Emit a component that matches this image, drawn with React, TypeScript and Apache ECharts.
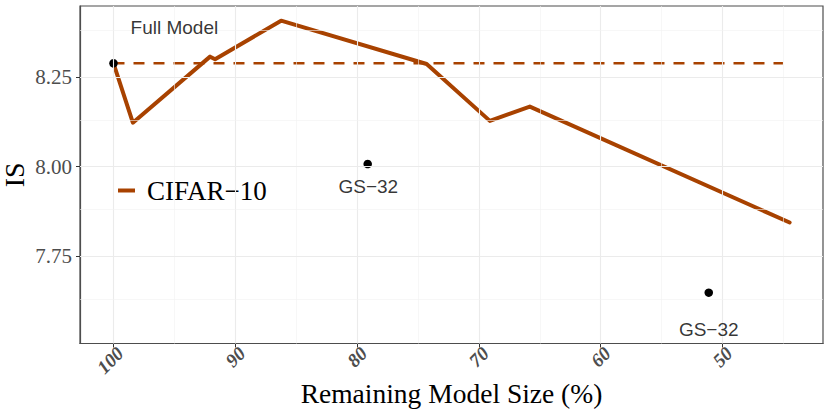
import React, { useEffect, useRef } from "react";
import * as echarts from "echarts";

// ---- data ----
const lineX = [100, 98.41, 92.07, 91.66, 86.24, 74.29, 69.1, 65.82, 44.49];
const lineY = [8.289, 8.123, 8.3075, 8.3, 8.408, 8.287, 8.128, 8.168, 7.844];
const fullX = [100, 45.04];
const fullY = [8.289, 8.289];
const pointX = [100, 79.13, 51.13];
const pointY = [8.289, 8.0075, 7.648];
const labelText = ["Full Model", "GS\u221232", "GS\u221232"];
const labelX = [95.0, 79.08, 51.13];
const labelY = [8.388, 7.945, 7.546];
const xTicks = [100, 90, 80, 70, 60, 50];
const xMinor = [95, 85, 75, 65, 55, 45];
const yTicks = [7.75, 8.0, 8.25];
const yMinor = [7.625, 7.875, 8.125, 8.375];
const legendName = "CIFAR\u221210";

const COLOR = "#A84200";
const SERIF = "'Liberation Serif', 'Times New Roman', serif";
const SANS = "'Liberation Sans', Arial, sans-serif";

export default function App() {
  const ref = useRef<HTMLDivElement>(null);
  useEffect(() => {
    if (!ref.current) return;
    const chart = echarts.init(ref.current, undefined, { renderer: "svg" });
    const zip = (xs: number[], ys: number[]) => xs.map((x, i) => [x, ys[i]]);
    const gridLines = [
      ...xTicks.map((v) => ({ xAxis: v, lineStyle: { color: "#ebebeb", width: 1.1, type: "solid" } })),
      ...xMinor.map((v) => ({ xAxis: v, lineStyle: { color: "#f2f2f2", width: 0.6, type: "solid" } })),
      ...yTicks.map((v) => ({ yAxis: v, lineStyle: { color: "#ebebeb", width: 1.1, type: "solid" } })),
      ...yMinor.map((v) => ({ yAxis: v, lineStyle: { color: "#f2f2f2", width: 0.6, type: "solid" } })),
    ];
    chart.setOption({
      animation: false,
      backgroundColor: "#ffffff",
      grid: {
        left: 80,
        right: 7,
        top: 6,
        bottom: 71.5,
        containLabel: false,
        outerBoundsMode: "none",
        show: true,
        borderColor: "#4d4d4d",
        borderWidth: 1.2,
        backgroundColor: "transparent",
      },
      legend: {
        data: [{ name: legendName, icon: "rect", itemStyle: { color: COLOR } }],
        left: 118,
        top: 177,
        padding: 0,
        itemWidth: 17,
        itemHeight: 4,
        textStyle: { fontFamily: SERIF, fontSize: 27, color: "#000", padding: [0, 0, 0, 7] },
        selectedMode: false,
      },
      xAxis: {
        type: "value",
        inverse: true,
        min: 41.75,
        max: 102.75,
        name: "Remaining Model Size (%)",
        nameLocation: "middle",
        nameGap: 36,
        nameMoveOverlap: false,
        nameTextStyle: { fontFamily: SERIF, fontSize: 27.5, color: "#000" },
        axisLine: { show: true, lineStyle: { color: "#4d4d4d", width: 1.2 } },
        axisTick: { show: true, length: 4, customValues: xTicks, lineStyle: { color: "#333", width: 1 } },
        axisLabel: {
          customValues: xTicks,
          rotate: 45,
          margin: 0,
          verticalAlign: "top",
          fontFamily: SERIF,
          fontWeight: "bold",
          fontStyle: "italic",
          fontSize: 19,
          color: "#4d4d4d",
          formatter: (v: number) => String(v),
        },
        splitLine: { show: false },
      },
      yAxis: {
        type: "value",
        min: 7.506,
        max: 8.449,
        name: "IS",
        nameLocation: "middle",
        nameGap: 52,
        nameMoveOverlap: false,
        nameTextStyle: { fontFamily: SERIF, fontSize: 28, color: "#000" },
        axisLine: { show: true, lineStyle: { color: "#4d4d4d", width: 1.2 } },
        axisTick: { show: true, length: 4, customValues: yTicks, lineStyle: { color: "#333", width: 1 } },
        axisLabel: {
          customValues: yTicks,
          margin: 8,
          fontFamily: SERIF,
          fontSize: 21,
          color: "#4d4d4d",
          formatter: (v: number) => v.toFixed(2),
        },
        splitLine: { show: false },
      },
      series: [
        {
          name: "grid",
          type: "line",
          z: 0,
          silent: true,
          symbol: "none",
          data: [[100, 8.289]],
          lineStyle: { opacity: 0 },
          markLine: { silent: true, symbol: ["none", "none"], label: { show: false }, animation: false, data: gridLines },
        },
        {
          name: legendName,
          type: "line",
          z: 2,
          symbol: "none",
          data: zip(fullX, fullY),
          lineStyle: { color: COLOR, width: 2.6, type: [11, 9] },
          itemStyle: { color: COLOR },
        },
        {
          name: "pruned",
          type: "line",
          z: 3,
          symbol: "none",
          data: zip(lineX, lineY),
          lineStyle: { color: COLOR, width: 4, cap: "round", join: "round" },
          itemStyle: { color: COLOR },
        },
        {
          name: "points",
          type: "scatter",
          z: 4,
          symbolSize: 8.5,
          itemStyle: { color: "#000", opacity: 1 },
          data: zip(pointX, pointY),
        },
        {
          name: "labels",
          type: "scatter",
          z: 5,
          symbolSize: 0,
          data: labelText.map((t, i) => ({ name: t, value: [labelX[i], labelY[i]] })),
          label: {
            show: true,
            position: "inside",
            formatter: (p: any) => p.name,
            fontFamily: SANS,
            fontSize: 19,
            color: "#000",
          },
        },
      ],
    });
    return () => chart.dispose();
  }, []);
  return <div ref={ref} style={{ position: "absolute", left: 0, top: 0, width: 830, height: 415 }} />;
}
